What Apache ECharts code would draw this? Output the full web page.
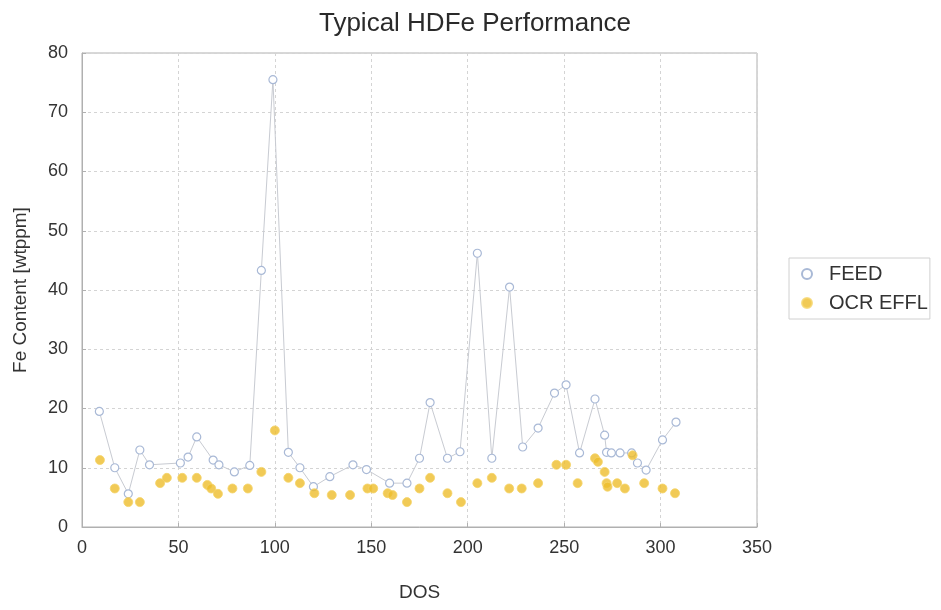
<!DOCTYPE html>
<html>
<head>
<meta charset="utf-8">
<script src="https://cdn.jsdelivr.net/npm/echarts@6/dist/echarts.min.js"></script>
<style>
html,body{margin:0;padding:0;background:#fff;}
#c{width:941px;height:610px;}
</style>
</head>
<body>
<div id="c"></div>
<script>
const xTicks = [0, 50, 100, 150, 200, 250, 300, 350];
const yTicks = [0, 10, 20, 30, 40, 50, 60, 70, 80];

const feedDos = [9, 17, 24, 30, 35, 51, 55, 59.5, 68, 71, 79, 87, 93, 99, 107, 113, 120, 128.5, 140.5, 147.5, 159.5, 168.5, 175, 180.5, 189.5, 196, 205, 212.5, 221.7, 228.5, 236.5, 245, 251, 258, 266, 271, 272, 274.5, 279, 285, 288, 292.5, 301, 308];
const feedFe  = [19.5, 10, 5.6, 13, 10.5, 10.8, 11.8, 15.2, 11.3, 10.5, 9.3, 10.4, 43.3, 75.5, 12.6, 10, 6.8, 8.5, 10.5, 9.7, 7.4, 7.4, 11.6, 21, 11.6, 12.7, 46.2, 11.6, 40.5, 13.5, 16.7, 22.6, 24, 12.5, 21.6, 15.5, 12.6, 12.5, 12.5, 12.5, 10.8, 9.6, 14.7, 17.7];

const effDos = [9.3, 17, 24, 30, 40.5, 44, 52, 59.5, 65, 67, 70.5, 78, 86, 93, 100, 107, 113, 120.5, 129.5, 139, 148, 151, 158.5, 161, 168.5, 175, 180.5, 189.5, 196.5, 205, 212.5, 221.5, 228, 236.5, 246, 251, 257, 266, 267.5, 271, 272, 272.5, 277.5, 281.5, 285.5, 291.5, 301, 307.5];
const effFe  = [11.3, 6.5, 4.2, 4.2, 7.4, 8.3, 8.3, 8.3, 7.1, 6.5, 5.6, 6.5, 6.5, 9.3, 16.3, 8.3, 7.4, 5.7, 5.4, 5.4, 6.5, 6.5, 5.7, 5.4, 4.2, 6.5, 8.3, 5.7, 4.2, 7.4, 8.3, 6.5, 6.5, 7.4, 10.5, 10.5, 7.4, 11.6, 11, 9.3, 7.4, 6.8, 7.4, 6.5, 12.1, 7.4, 6.5, 5.7];

const feedData = feedDos.map((d, i) => [d, feedFe[i]]);
const effData = effDos.map((d, i) => [d, effFe[i]]);

const font = 'Liberation Sans, Arial, sans-serif';
const chart = echarts.init(document.getElementById('c'));
chart.setOption({
  animation: false,
  backgroundColor: '#ffffff',
  textStyle: { fontFamily: font },
  title: {
    text: 'Typical HDFe Performance',
    left: 470, top: 6, textAlign: 'center',
    textStyle: { fontFamily: font, fontSize: 26, fontWeight: 'normal', color: '#2a2a2a' }
  },
  grid: {
    left: 82, right: 184, top: 53, bottom: 83,
    show: true, borderColor: '#b0b0b0', borderWidth: 1, backgroundColor: 'transparent'
  },
  legend: {
    orient: 'vertical', left: 789, top: 258,
    padding: [6, 2, 6, 12], itemGap: 9,
    borderColor: '#d0d0d0', borderWidth: 1,
    itemWidth: 10, itemHeight: 10,
    textStyle: { fontFamily: font, fontSize: 20, color: '#333', padding: [0, 0, 0, 12] },
    data: [
      { name: 'FEED', icon: 'circle' },
      { name: 'OCR EFFL', icon: 'circle' }
    ]
  },
  xAxis: {
    type: 'value', min: xTicks[0], max: xTicks[xTicks.length - 1], interval: 50,
    name: 'DOS', nameLocation: 'middle', nameGap: 56,
    nameTextStyle: { fontFamily: font, fontSize: 19, color: '#333' },
    axisLine: { show: true, lineStyle: { color: '#b0b0b0' } },
    axisTick: { show: true, inside: true, length: 4, lineStyle: { color: '#b0b0b0' } },
    axisLabel: { fontFamily: font, fontSize: 18, color: '#333', margin: 12 },
    splitLine: { show: true, lineStyle: { color: '#d4d4d4', type: [3, 3] } }
  },
  yAxis: {
    type: 'value', min: yTicks[0], max: yTicks[yTicks.length - 1], interval: 10,
    name: 'Fe Content [wtppm]', nameLocation: 'middle', nameGap: 52,
    nameTextStyle: { fontFamily: font, fontSize: 19, color: '#333' },
    axisLine: { show: true, lineStyle: { color: '#b0b0b0' } },
    axisTick: { show: true, inside: true, length: 4, lineStyle: { color: '#b0b0b0' } },
    axisLabel: { fontFamily: font, fontSize: 18, color: '#333', margin: 14 },
    splitLine: { show: true, lineStyle: { color: '#d4d4d4', type: [3, 3] } }
  },
  series: [
    {
      name: 'FEED', type: 'line', data: feedData,
      symbol: 'circle', symbolSize: 8, showSymbol: true,
      lineStyle: { color: '#c8cbd2', width: 1 },
      itemStyle: { color: '#ffffff', borderColor: '#a9b9d6', borderWidth: 1.2 },
      z: 2
    },
    {
      name: 'OCR EFFL', type: 'scatter', data: effData,
      symbol: 'circle', symbolSize: 9,
      itemStyle: { color: '#eebd2c', borderColor: '#f5d46a', borderWidth: 1 },
      z: 3
    }
  ]
});
</script>
</body>
</html>
